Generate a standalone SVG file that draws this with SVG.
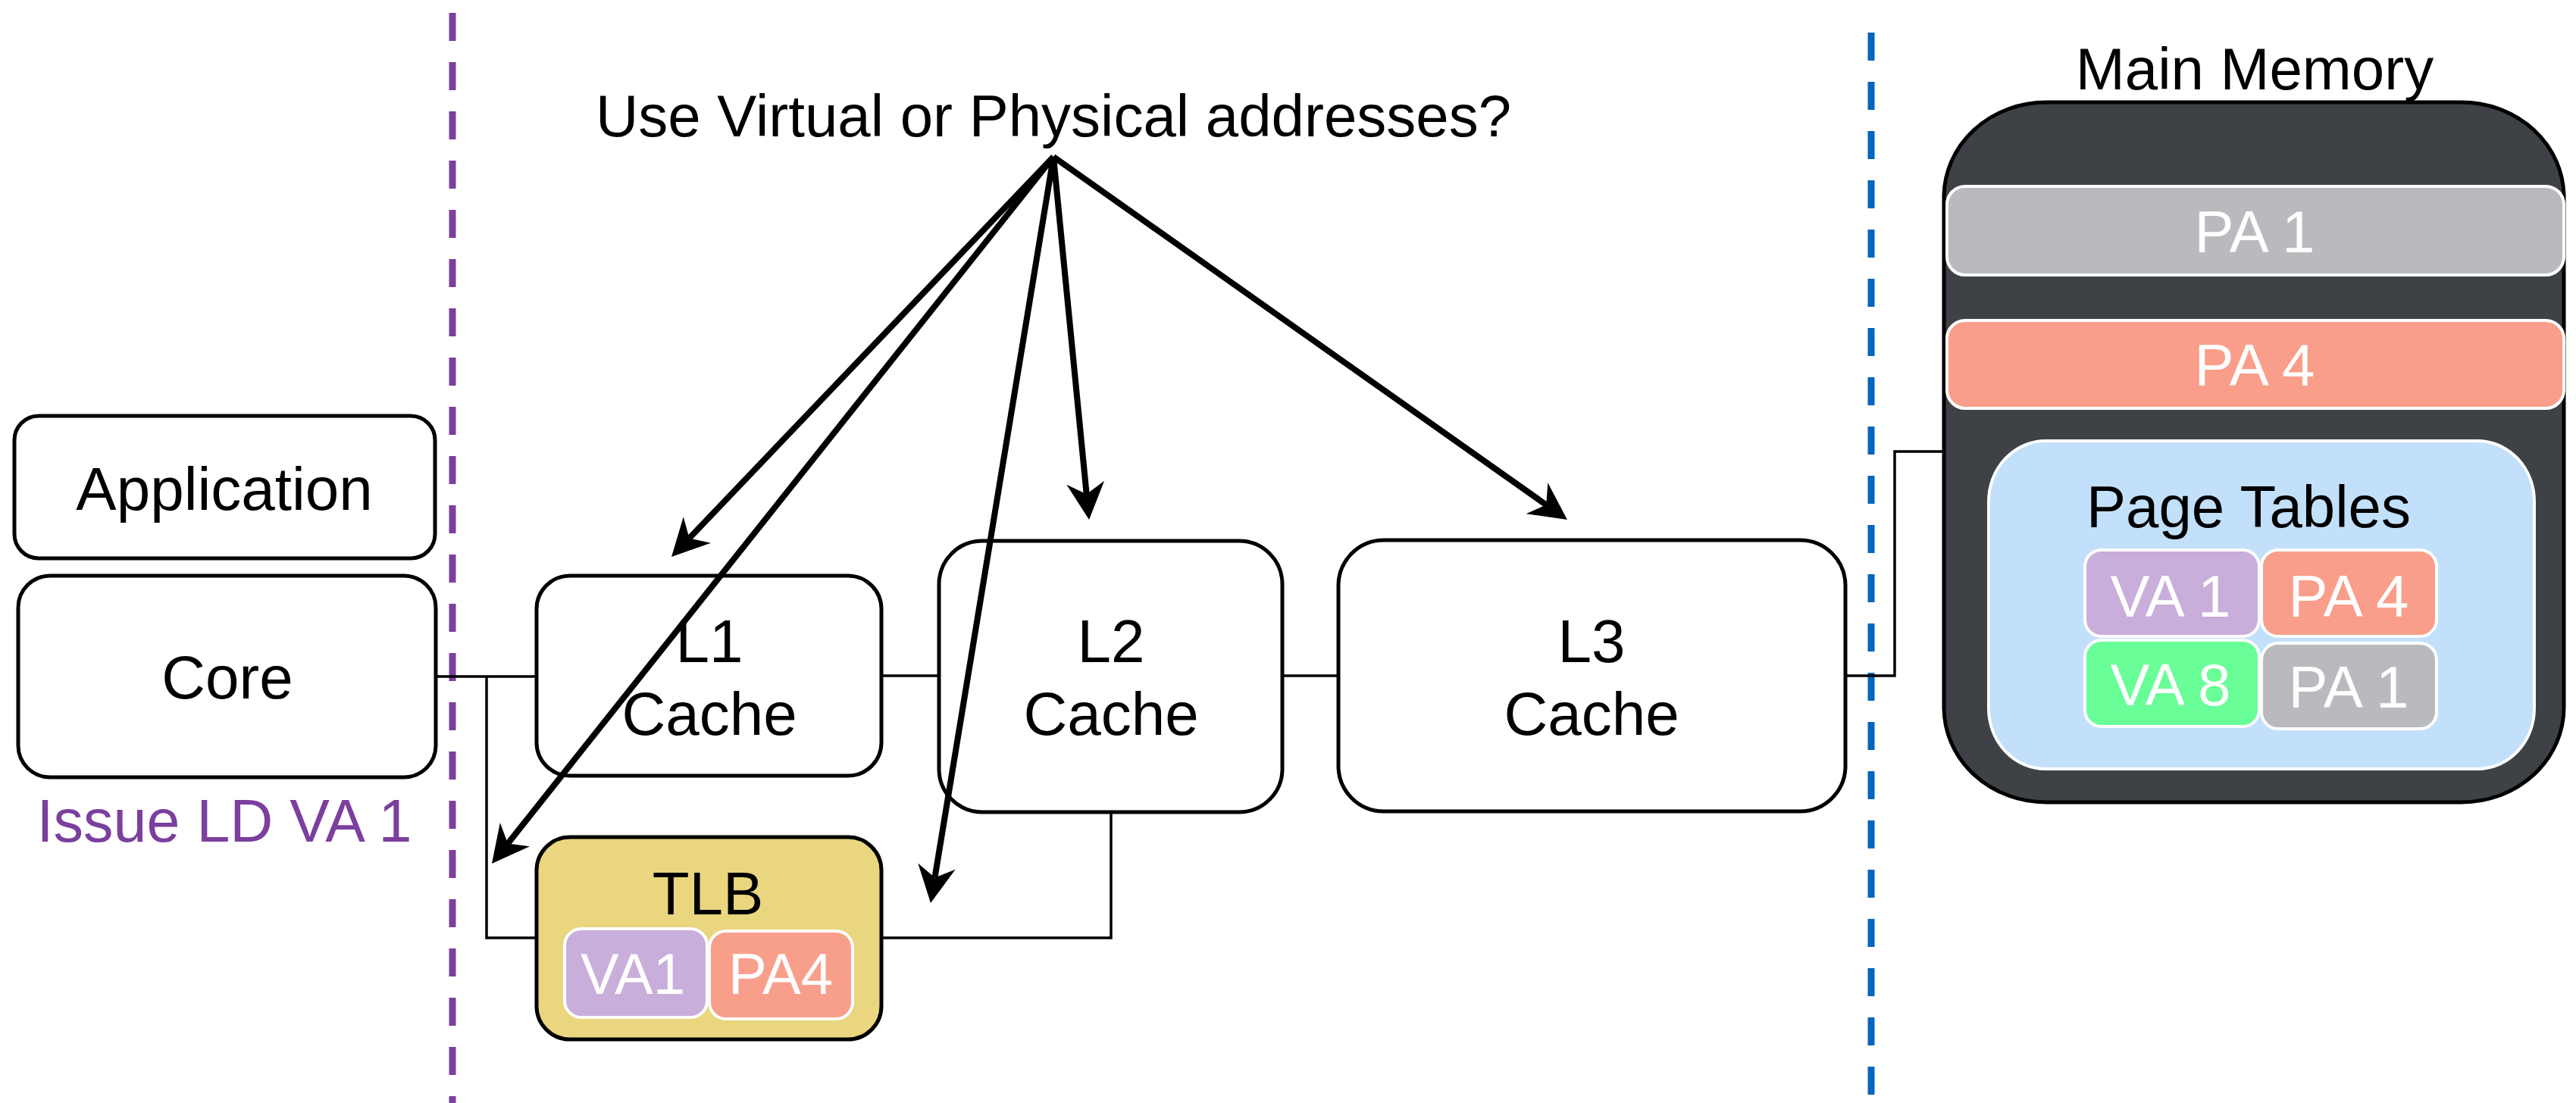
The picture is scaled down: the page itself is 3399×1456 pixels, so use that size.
<svg xmlns="http://www.w3.org/2000/svg" width="3399" height="1456" viewBox="0 0 3399 1456">
<style>
text{font-family:"Liberation Sans",Arial,sans-serif;text-anchor:middle}
.lbl{font-size:80px;fill:#000}
.wt{font-size:78px;fill:#fff}
.box{fill:#fff;stroke:#000;stroke-width:5}
.cell{stroke:#fff;stroke-width:4}
.wire{fill:none;stroke:#000;stroke-width:3.5}
.arr{fill:none;stroke:#000;stroke-width:8;marker-end:url(#ah)}
</style>
<defs>
<marker id="ah" markerUnits="userSpaceOnUse" markerWidth="70" markerHeight="70" viewBox="-25 -35 70 70" refX="0" refY="0" orient="auto" overflow="visible">
<path d="M34,0 L-15,-25 L0,0 L-15,25 Z" fill="#000"/>
</marker>
</defs>
<rect width="3399" height="1456" fill="#fff"/>
<g id="dividers">
<line x1="597" y1="17" x2="597" y2="1456" stroke="#7B3F9E" stroke-width="9" stroke-dasharray="37 28"/>
<line x1="2469" y1="43" x2="2469" y2="1456" stroke="#0565C0" stroke-width="9" stroke-dasharray="37 28"/>
</g>
<g id="question">
<text x="1390" y="180" style="font-size:78px">Use Virtual or Physical addresses?</text>
</g>
<g id="application">
<rect class="box" x="19" y="549" width="555" height="188" rx="32" ry="32"/>
<text class="lbl" x="296" y="673">Application</text>
</g>
<g id="core">
<rect class="box" x="24" y="760" width="551" height="266" rx="42" ry="42"/>
<text class="lbl" x="300" y="922">Core</text>
</g>
<g id="issue">
<text x="296" y="1111" style="font-size:79px;fill:#7B3F9E">Issue LD VA 1</text>
</g>
<g id="l1">
<rect class="box" x="708" y="760" width="455" height="264" rx="44" ry="44"/>
<text class="lbl" x="936" y="874">L1</text>
<text class="lbl" x="936" y="970">Cache</text>
</g>
<g id="l2">
<rect class="box" x="1239" y="714" width="453" height="358" rx="57" ry="57"/>
<text class="lbl" x="1466" y="874">L2</text>
<text class="lbl" x="1466" y="970">Cache</text>
</g>
<g id="l3">
<rect class="box" x="1766" y="713" width="669" height="358" rx="60" ry="60"/>
<text class="lbl" x="2100" y="874">L3</text>
<text class="lbl" x="2100" y="970">Cache</text>
</g>
<g id="tlb">
<rect x="708" y="1105" width="455" height="267" rx="44" ry="44" fill="#E9D67E" stroke="#000" stroke-width="5"/>
<text class="lbl" x="934" y="1207">TLB</text>
<rect class="cell" x="745" y="1226" width="188" height="117" rx="22" fill="#C9AEDB"/>
<rect class="cell" x="936" y="1229" width="189" height="116" rx="22" fill="#F89F8B"/>
<text x="835" y="1312" style="font-size:76px;fill:#fff">VA1</text>
<text x="1030" y="1312" style="font-size:76px;fill:#fff">PA4</text>
</g>
<g id="main-memory">
<text class="lbl" x="2975" y="118" style="font-size:78px">Main Memory</text>
<rect x="2565" y="135" width="818" height="924" rx="135" ry="125" fill="#3E4145" stroke="#000" stroke-width="5"/>
<rect class="cell" x="2569" y="246" width="814" height="117" rx="24" fill="#B8BABE"/>
<text class="wt" x="2975" y="333">PA 1</text>
<rect class="cell" x="2569" y="423" width="814" height="116" rx="24" fill="#F89E8A"/>
<text class="wt" x="2975" y="509">PA 4</text>
<g id="page-tables">
<rect x="2624" y="582" width="720" height="433" rx="75" ry="80" fill="#C3E0FA" stroke="#fff" stroke-width="4"/>
<text class="lbl" x="2967" y="696" style="font-size:78px">Page Tables</text>
<rect class="cell" x="2751" y="726" width="230" height="114" rx="22" fill="#C9ADDA"/>
<rect class="cell" x="2984" y="726" width="231" height="114" rx="22" fill="#F89E8A"/>
<rect class="cell" x="2751" y="845" width="230" height="114" rx="22" fill="#69FE98"/>
<rect class="cell" x="2984" y="849" width="231" height="113" rx="22" fill="#B8BABE"/>
<text class="wt" x="2864" y="814">VA 1</text>
<text class="wt" x="3099" y="814">PA 4</text>
<text class="wt" x="2864" y="931">VA 8</text>
<text class="wt" x="3099" y="934">PA 1</text>
</g>
</g>
<g id="connectors">
<polyline class="wire" points="575,893 708,893"/>
<polyline class="wire" points="642,893 642,1238 708,1238"/>
<polyline class="wire" points="1163,892 1239,892"/>
<polyline class="wire" points="1692,892 1766,892"/>
<polyline class="wire" points="1163,1238 1466,1238 1466,1072"/>
<polyline class="wire" points="2435,892 2500,892 2500,596 2565,596"/>
<line class="arr" x1="1390" y1="207" x2="909.5" y2="710.4"/>
<line class="arr" x1="1390" y1="207" x2="670.1" y2="1113.4"/>
<line class="arr" x1="1390" y1="207" x2="1233.5" y2="1158.4"/>
<line class="arr" x1="1390" y1="207" x2="1433.7" y2="652.2"/>
<line class="arr" x1="1390" y1="207" x2="2040.2" y2="666.4"/>
</g>
</svg>
